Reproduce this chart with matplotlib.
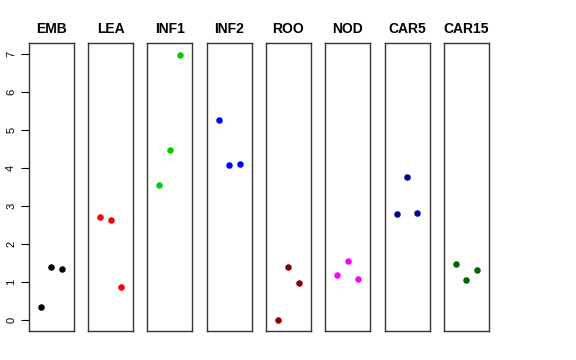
import matplotlib
matplotlib.use("Agg")
import matplotlib.pyplot as plt

plt.rcParams["font.family"] = ["Liberation Sans", "DejaVu Sans"]

# Panel names and colours
groups = ["EMB", "LEA", "INF1", "INF2", "ROO", "NOD", "CAR5", "CAR15"]
colors = ["black", "red", "#00CD00", "blue", "#8B0000", "magenta", "#00008B", "#006400"]

# Three replicate values per panel (left, middle, right)
values = {
    "EMB": [0.35, 1.39, 1.35],
    "LEA": [2.72, 2.63, 0.87],
    "INF1": [3.54, 4.46, 6.96],
    "INF2": [5.27, 4.09, 4.10],
    "ROO": [0.01, 1.39, 0.99],
    "NOD": [1.18, 1.55, 1.08],
    "CAR5": [2.78, 3.77, 2.83],
    "CAR15": [1.49, 1.06, 1.31],
}
positions = [1, 2, 3]
yticks = [0, 1, 2, 3, 4, 5, 6, 7]

fig = plt.figure(figsize=(5.76, 3.6), dpi=100)

left0 = 28.7 / 576
width = 45.0 / 576
step = 59.3 / 576
bottom = 29.0 / 360
height = 288.0 / 360

for i, (name, col) in enumerate(zip(groups, colors)):
    ax = fig.add_axes([left0 + i * step, bottom, width, height])
    ax.scatter(positions, values[name], s=22, color=col, zorder=3, linewidths=0)
    ax.set_xlim(1 - 1.16, 3 + 1.16)
    ax.set_ylim(-0.28, 7.28)
    ax.set_xticks([])
    ax.set_title(name, fontsize=10, fontweight="bold", pad=7)
    for sp in ax.spines.values():
        sp.set_color("#333333")
        sp.set_linewidth(1)
    if i == 0:
        ax.set_yticks(yticks)
        ax.set_yticklabels([str(t) for t in yticks], rotation=90, va="center", fontsize=8)
        ax.tick_params(axis="y", length=6, width=0.8, pad=3)
    else:
        ax.set_yticks([])

fig.savefig("out.png", dpi=100)
